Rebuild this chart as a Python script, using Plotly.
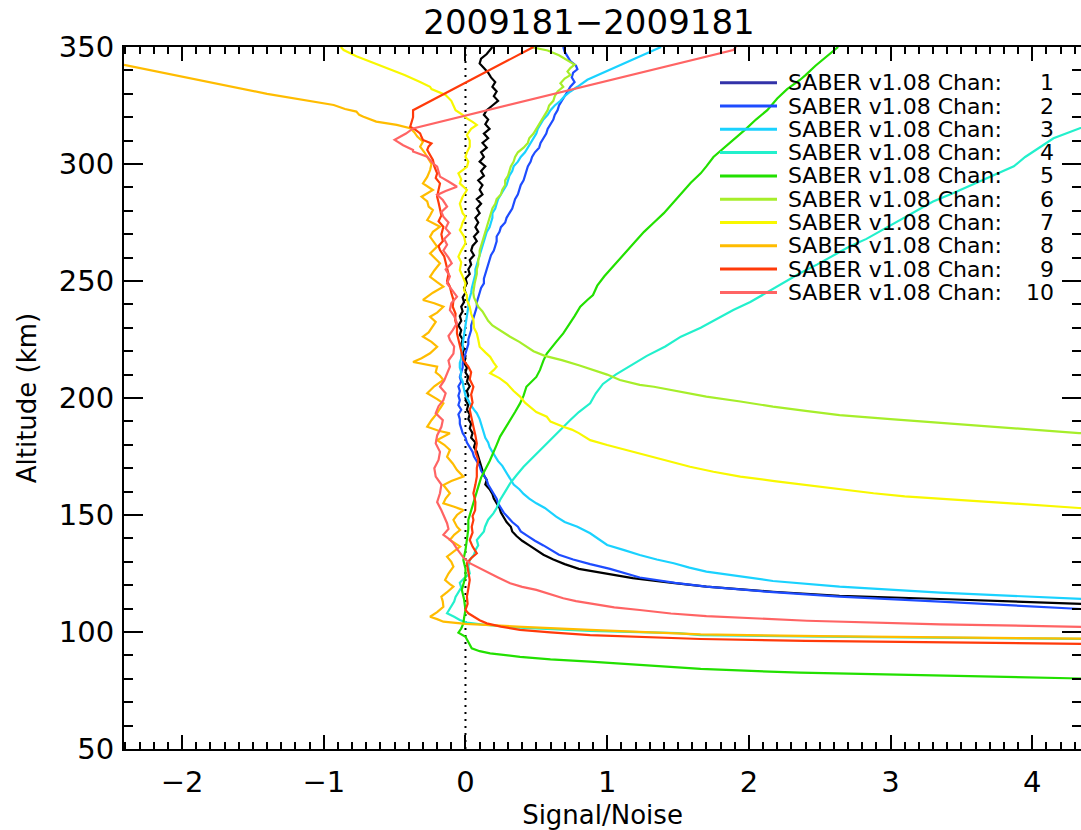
import plotly.graph_objects as go

# ---------------- data (altitude km, signal/noise) ----------------
alt_ch1 = [350, 347, 345, 343, 341, 339, 337, 335, 333, 331, 329, 327, 325, 323, 321, 319, 317, 315, 313, 311,
           309, 307, 305, 303, 301, 299, 297, 295, 293, 291, 289, 287, 285, 283, 281, 279, 277, 275, 273, 271,
           269, 267, 265, 263, 261, 259, 257, 255, 253, 251, 249, 247, 245, 243, 241, 239, 237, 235, 233, 231,
           229, 227, 225, 223, 221, 219, 217, 215, 213, 211, 209, 207, 205, 203, 201, 199, 197, 195, 193, 191,
           189, 187, 185, 183, 181, 179, 177, 175, 173, 171, 169, 167, 165, 163, 161, 159, 157, 155, 153, 151,
           149, 147, 145, 143, 141, 139, 137, 135, 133, 131, 129, 127, 125, 123, 121, 119.4, 117.2, 115.5, 114.1,
           112.2, 111.5]
sn_ch1 = [0.19, 0.15, 0.11, 0.10, 0.13, 0.16, 0.18, 0.21, 0.19, 0.22, 0.20, 0.23, 0.19, 0.15, 0.13, 0.16, 0.14, 0.17,
          0.13, 0.16, 0.12, 0.15, 0.11, 0.13, 0.10, 0.14, 0.11, 0.13, 0.09, 0.12, 0.10, 0.12, 0.08, 0.11, 0.08, 0.10,
          0.07, 0.09, 0.07, 0.09, 0.06, 0.08, 0.05, 0.04, 0.06, 0.03, 0.04, 0.02, 0.03, 0.00, 0.01, -0.01, 0.00, -0.02,
          -0.01, -0.03, -0.02, -0.04, -0.03, -0.05, -0.03, -0.04, -0.02, -0.03, -0.01, -0.02, 0.00, -0.01, 0.01, 0.00,
          0.02, 0.01, 0.03, 0.01, 0.02, 0.00, 0.02, 0.01, 0.03, 0.02, 0.04, 0.03, 0.05, 0.04, 0.07, 0.06, 0.08, 0.09,
          0.10, 0.11, 0.12, 0.13, 0.15, 0.14, 0.17, 0.19, 0.20, 0.22, 0.24, 0.25, 0.27, 0.29, 0.32, 0.33, 0.36, 0.40,
          0.45, 0.50, 0.55, 0.62, 0.70, 0.80, 0.98, 1.18, 1.46, 1.70, 2.17, 2.64, 3.35, 4.33, 4.60]

alt_ch2 = [350, 348, 346, 344, 342, 340.5, 339, 337, 335, 333, 331, 329, 327, 325, 323, 321, 319, 317, 315, 313,
           311, 309, 307, 305, 303, 301, 299, 297, 295, 293, 291, 289, 287, 285, 283, 281, 279, 277, 275, 273,
           271, 269, 267, 265, 263, 261, 259, 257, 255, 253, 251, 249, 247, 245, 243, 241, 239, 237, 235, 233,
           231, 229, 227, 225, 223, 221, 219, 217, 215, 213, 211, 209, 207, 205, 203, 201, 199, 197, 195, 193,
           191, 189, 187, 185, 183, 181, 179, 177, 175, 173, 171, 169, 167, 165, 163, 161, 159, 157, 155, 153,
           151, 149, 147, 145, 143, 141, 139, 137, 135, 133, 131, 129, 127, 125, 123.3, 121, 119.4, 117, 115.1,
           113, 109.8, 109]
sn_ch2 = [0.69, 0.70, 0.72, 0.74, 0.78, 0.79, 0.76, 0.75, 0.77, 0.74, 0.72, 0.70, 0.68, 0.66, 0.65, 0.63, 0.62, 0.60,
          0.58, 0.57, 0.55, 0.53, 0.52, 0.49, 0.47, 0.46, 0.44, 0.43, 0.42, 0.41, 0.39, 0.38, 0.37, 0.35, 0.34, 0.33,
          0.31, 0.29, 0.28, 0.25, 0.24, 0.22, 0.22, 0.21, 0.20, 0.18, 0.17, 0.16, 0.15, 0.14, 0.13, 0.13, 0.11, 0.10,
          0.09, 0.08, 0.08, 0.07, 0.06, 0.05, 0.04, 0.04, 0.03, 0.02, 0.02, 0.01, 0.00, -0.01, -0.02, -0.02, -0.03,
          -0.04, -0.03, -0.05, -0.04, -0.05, -0.04, -0.05, -0.03, -0.05, -0.04, -0.04, -0.03, -0.02, 0.00, 0.01, 0.03,
          0.05, 0.06, 0.08, 0.10, 0.11, 0.13, 0.15, 0.16, 0.18, 0.20, 0.22, 0.23, 0.25, 0.27, 0.30, 0.33, 0.37, 0.39,
          0.44, 0.49, 0.55, 0.61, 0.66, 0.76, 0.88, 1.02, 1.14, 1.23, 1.48, 1.70, 2.17, 2.64, 3.35, 4.33, 4.60]

alt_ch3 = [350, 336, 333, 331, 329, 327, 325, 323, 321, 319, 317, 315, 313, 311, 309, 307, 305, 303, 301, 299,
           297, 295, 293, 291, 289, 287, 285, 283, 281, 279, 277, 275, 273, 271, 269, 267, 265, 263, 261, 259,
           257, 255, 253, 251, 249, 247, 245, 243, 241, 239, 237, 235, 233, 231, 229, 227, 225, 223, 221, 219,
           217, 215, 213, 211, 209, 207, 205, 203, 201, 199, 197.7, 195, 193.5, 191, 189, 187, 185, 183, 181, 179,
           177, 175, 173, 171, 169, 167, 165, 163, 161, 159, 157, 155, 153, 151, 149.3, 147, 145, 142.2, 139,
           137.2, 135, 132.9, 131, 129.4, 127.5, 125.8, 121.8, 119.4, 116.8, 114.1, 113.5]
sn_ch3 = [1.38, 0.86, 0.79, 0.74, 0.70, 0.67, 0.63, 0.60, 0.58, 0.55, 0.53, 0.51, 0.50, 0.48, 0.46, 0.44, 0.42, 0.39,
          0.37, 0.34, 0.33, 0.31, 0.30, 0.29, 0.27, 0.25, 0.23, 0.22, 0.21, 0.19, 0.19, 0.18, 0.17, 0.15, 0.14, 0.13,
          0.12, 0.115, 0.10, 0.09, 0.08, 0.07, 0.07, 0.06, 0.05, 0.045, 0.04, 0.03, 0.02, 0.02, 0.015, 0.01, 0.00,
          0.00, -0.01, -0.01, -0.015, -0.02, -0.02, -0.03, -0.03, -0.04, -0.04, -0.03, -0.035, -0.02, -0.015, -0.01,
          0.00, 0.02, 0.03, 0.06, 0.08, 0.10, 0.11, 0.12, 0.13, 0.14, 0.16, 0.17, 0.19, 0.21, 0.23, 0.26, 0.28, 0.30,
          0.32, 0.34, 0.38, 0.41, 0.45, 0.50, 0.56, 0.60, 0.64, 0.70, 0.79, 0.88, 0.96, 1.00, 1.12, 1.23, 1.35, 1.47,
          1.58, 1.70, 2.17, 2.64, 3.35, 4.33, 4.60]

alt_ch4 = [317, 315.4, 311, 307, 303, 299, 295, 291, 287.5, 284, 280, 276, 272, 268, 264.7, 261, 257, 253.3, 249,
           245, 241, 237.6, 234, 230, 226.2, 222, 218, 214, 210, 206, 202, 197.7, 194, 190.6, 187, 183.5, 180,
           176.4, 173, 170.6, 167, 163.5, 160, 156.4, 153, 150.7, 148, 145, 143, 141, 139.3, 137, 135, 133, 130.8,
           128, 125, 123, 121, 119, 117, 115, 113, 111, 109, 108, 106.5, 105.1, 104, 103, 102, 101.5, 100.5, 99.5,
           98.7, 98, 97.4, 97.0, 96.9]
sn_ch4 = [4.55, 4.34, 4.15, 4.05, 3.95, 3.87, 3.72, 3.58, 3.44, 3.30, 3.18, 3.07, 2.95, 2.83, 2.71, 2.60, 2.48, 2.36,
          2.24, 2.13, 2.01, 1.89, 1.78, 1.66, 1.52, 1.41, 1.28, 1.17, 1.06, 0.97, 0.92, 0.88, 0.80, 0.74, 0.68, 0.62,
          0.56, 0.50, 0.45, 0.41, 0.36, 0.315, 0.28, 0.244, 0.22, 0.197, 0.16, 0.138, 0.13, 0.10, 0.08, 0.09, 0.07,
          0.06, 0.03, 0.02, 0.03, -0.01, -0.04, -0.03, -0.05, -0.07, -0.08, -0.10, -0.12, -0.13, -0.08, -0.04, 0.01,
          0.15, 0.34, 0.50, 0.88, 1.50, 1.66, 2.50, 3.35, 4.33, 4.60]

alt_ch5 = [350, 346, 342, 338, 335.9, 332, 328, 323, 319, 315, 310.3, 306, 303, 299, 296, 292, 288, 284, 279, 275,
           271, 267, 263, 259, 256, 252, 248, 244, 241.9, 239, 235, 231, 227.6, 224, 221, 219, 216, 212, 209, 204.8,
           201, 197.7, 194, 190.6, 187, 183.5, 180, 176.4, 173, 169.2, 166, 162, 158, 155, 151, 147.9, 144, 139.3,
           135, 130.8, 127, 123.6, 121, 118, 114, 109.4, 106, 103.7, 101.5, 99.7, 98, 95.5, 93, 91.8, 90.9, 89.4,
           88.3, 87.3, 85.8, 84.2, 82.6, 81.2, 80.0, 79.8]
sn_ch5 = [2.63, 2.55, 2.47, 2.40, 2.36, 2.27, 2.20, 2.13, 2.05, 1.98, 1.89, 1.80, 1.75, 1.70, 1.66, 1.59, 1.53, 1.47,
          1.40, 1.33, 1.26, 1.20, 1.14, 1.08, 1.04, 0.98, 0.93, 0.90, 0.86, 0.81, 0.77, 0.73, 0.69, 0.64, 0.60, 0.574,
          0.55, 0.526, 0.50, 0.43, 0.41, 0.385, 0.35, 0.315, 0.28, 0.244, 0.22, 0.197, 0.17, 0.138, 0.11, 0.09, 0.07,
          0.056, 0.04, 0.02, 0.02, 0.01, 0.00, -0.015, 0.00, 0.00, -0.01, -0.026, -0.01, 0.00, -0.01, -0.015, -0.03,
          -0.05, 0.00, 0.02, 0.044, 0.10, 0.174, 0.385, 0.60, 0.88, 1.25, 1.66, 2.36, 3.35, 4.33, 4.60]

alt_ch6 = [350, 348.5, 346.5, 344.5, 342.5, 341, 339.5, 338, 336.5, 334.5, 333, 331, 329, 327, 325, 323, 321, 319,
           317, 315, 313, 311, 309, 307, 305, 303, 301, 299, 297, 295, 293, 291, 289, 287, 285, 283, 281, 279, 277,
           275, 273, 271, 269, 267, 265, 263, 261, 259, 257, 255, 253, 251, 249, 247, 245, 243, 241, 239, 237, 235,
           233, 231, 229, 227, 226.2, 224, 222, 220, 218, 216.2, 214, 212, 210, 207.7, 205.6, 204.8, 202.7, 200.6,
           198.5, 196.3, 194.5, 192.7, 191, 189.4, 187.2, 185, 184.5]
sn_ch6 = [0.46, 0.58, 0.66, 0.72, 0.77, 0.74, 0.72, 0.74, 0.70, 0.67, 0.69, 0.65, 0.63, 0.62, 0.59, 0.58, 0.56, 0.54,
          0.52, 0.50, 0.48, 0.45, 0.44, 0.41, 0.37, 0.35, 0.34, 0.32, 0.31, 0.30, 0.28, 0.28, 0.26, 0.25, 0.22, 0.21,
          0.19, 0.18, 0.17, 0.16, 0.15, 0.14, 0.13, 0.12, 0.11, 0.10, 0.10, 0.09, 0.09, 0.08, 0.08, 0.07, 0.065, 0.06,
          0.055, 0.06, 0.075, 0.09, 0.12, 0.14, 0.16, 0.19, 0.24, 0.29, 0.315, 0.38, 0.43, 0.48, 0.56, 0.68, 0.80,
          0.90, 1.00, 1.09, 1.23, 1.33, 1.51, 1.70, 1.94, 2.17, 2.40, 2.64, 3.00, 3.35, 3.85, 4.33, 4.60]

alt_ch7 = [350, 348.7, 346, 343.7, 341, 338, 335, 333, 332, 331, 329.5, 328.8, 327, 325, 323, 321, 319.5, 318,
           316.7, 315, 313.5, 312.4, 310, 307.4, 305, 303.1, 301, 298.8, 296, 293.5, 291.7, 288.9, 286, 283, 281,
           279, 277.5, 275, 273, 271.8, 269, 266.1, 263, 260.4, 258, 254.7, 252, 249, 246, 244, 241.9, 239, 236,
           233.3, 230, 227.6, 225, 221.9, 219.5, 217.6, 215, 213.4, 212, 210.6, 208.5, 206.3, 203, 200.6, 198,
           196.3, 194, 192, 189.9, 187.7, 186.5, 185, 182, 179.9, 178, 176.4, 173.5, 170.6, 168.5, 166.4, 164.5,
           162.8, 161, 159.3, 158, 157.1, 155, 153, 152.5]
sn_ch7 = [-0.88, -0.86, -0.77, -0.67, -0.55, -0.43, -0.32, -0.25, -0.24, -0.20, -0.14, -0.13, -0.10, -0.085, -0.07,
          -0.02, 0.01, 0.05, 0.08, 0.04, 0.02, 0.01, 0.03, 0.03, 0.01, 0.00, 0.02, 0.01, -0.05, -0.03, -0.04, 0.01,
          -0.02, -0.04, -0.03, -0.02, 0.00, -0.02, -0.03, -0.04, -0.01, 0.00, -0.03, -0.05, -0.03, -0.04, -0.02, 0.00,
          -0.01, 0.01, 0.01, 0.03, 0.04, 0.056, 0.06, 0.08, 0.09, 0.10, 0.14, 0.174, 0.20, 0.22, 0.20, 0.174, 0.24,
          0.29, 0.34, 0.385, 0.42, 0.456, 0.50, 0.574, 0.60, 0.69, 0.75, 0.80, 0.88, 1.00, 1.12, 1.23, 1.40, 1.585,
          1.75, 1.94, 2.18, 2.41, 2.65, 2.88, 3.10, 3.35, 3.85, 4.33, 4.60]

alt_ch8 = [342.4, 336, 330, 325.2, 323.5, 322.4, 321, 320.2, 319, 318.1, 316.7, 315.3, 313.5, 311.7, 309.5, 307.4,
           305, 303.1, 300, 297.4, 294.5, 291.7, 288.9, 286, 284, 281.8, 280.3, 278, 276, 273.2, 271, 268.9, 266.5,
           264.7, 261.8, 259.5, 257.6, 254.5, 251.8, 249.5, 247.6, 245, 241.9, 240.5, 239, 236.5, 234.7, 232.5,
           230.5, 228, 226.2, 224, 221.9, 219.1, 217, 215.4, 213.4, 211, 209.5, 207.7, 205, 202, 199.5, 197.7,
           195.5, 193.5, 190.5, 187.7, 186, 184.9, 182, 180, 177.8, 174.9, 172, 169.2, 166.4, 164.5, 162.8, 161,
           159.3, 157, 155, 153.5, 152.1, 150, 147.9, 145, 143.6, 141.5, 139.3, 136.5, 134, 132.2, 130, 127.9, 125,
           122.2, 120.5, 119.4, 117, 115.1, 113, 110.8, 108.5, 106.5, 105.5, 104.4, 103.5, 103, 102.2, 100.9, 99.9,
           99.0, 98.2, 97.6, 97.1, 97.0]
sn_ch8 = [-2.41, -1.90, -1.40, -0.93, -0.85, -0.77, -0.75, -0.72, -0.67, -0.63, -0.485, -0.39, -0.36, -0.34, -0.30,
          -0.32, -0.29, -0.27, -0.24, -0.25, -0.27, -0.30, -0.23, -0.31, -0.27, -0.26, -0.23, -0.25, -0.27, -0.18,
          -0.23, -0.25, -0.22, -0.20, -0.25, -0.21, -0.18, -0.22, -0.25, -0.20, -0.156, -0.23, -0.30, -0.22, -0.156,
          -0.20, -0.25, -0.21, -0.23, -0.26, -0.30, -0.24, -0.20, -0.25, -0.31, -0.37, -0.20, -0.21, -0.18, -0.156,
          -0.22, -0.27, -0.20, -0.156, -0.18, -0.20, -0.24, -0.27, -0.19, -0.11, -0.20, -0.15, -0.11, -0.13, -0.09,
          -0.06, -0.015, -0.10, -0.156, -0.13, -0.11, -0.14, -0.156, -0.08, -0.015, -0.06, -0.085, -0.06, -0.038,
          -0.08, -0.11, -0.038, -0.09, -0.13, -0.10, -0.085, -0.12, -0.144, -0.11, -0.085, -0.13, -0.17, -0.16,
          -0.156, -0.20, -0.25, -0.20, -0.156, 0.00, 0.15, 0.40, 0.88, 1.30, 1.66, 2.50, 3.35, 4.33, 4.60]

alt_ch9 = [350, 323, 320, 318, 315.9, 314.5, 313.1, 311.5, 310.3, 308.8, 307.5, 306, 304, 301.7, 299, 296, 294,
           291.7, 289, 286, 283.5, 281, 278, 275.5, 273.2, 270, 267, 265, 263.2, 260.5, 258, 256, 253, 250, 247.6,
           245, 241.9, 239, 236, 233.3, 230.5, 227.6, 225, 221.9, 219, 216.2, 213.4, 211, 208, 204.8, 201.5, 198,
           195, 191.5, 187.7, 184, 180.6, 177, 173.5, 170, 166.4, 163, 159.3, 155.5, 152, 149.5, 147.9, 145, 142.5,
           139.3, 136.5, 133.6, 131.5, 129.4, 126, 122.2, 118.5, 115.1, 112, 109.4, 108, 106.5, 105, 103.7, 102.3,
           100.9, 99.8, 98.7, 97.8, 97.0, 96.2, 95.5, 94.9, 94.8]
sn_ch9 = [0.48, -0.37, -0.37, -0.38, -0.39, -0.35, -0.32, -0.31, -0.30, -0.24, -0.26, -0.27, -0.25, -0.23, -0.22,
          -0.20, -0.21, -0.18, -0.19, -0.20, -0.19, -0.18, -0.17, -0.19, -0.156, -0.17, -0.16, -0.19, -0.18, -0.15,
          -0.14, -0.13, -0.12, -0.13, -0.11, -0.10, -0.085, -0.09, -0.07, -0.073, -0.06, -0.06, -0.05, -0.038, -0.03,
          -0.015, 0.02, 0.04, 0.03, 0.056, 0.04, 0.05, 0.03, 0.04, 0.056, 0.07, 0.08, 0.07, 0.09, 0.08, 0.08, 0.07,
          0.056, 0.07, 0.068, 0.05, 0.056, 0.044, 0.05, 0.03, 0.05, 0.08, 0.04, 0.01, 0.02, 0.03, 0.02, 0.01, 0.015,
          0.00, 0.02, 0.056, 0.10, 0.15, 0.25, 0.385, 0.60, 0.88, 1.25, 1.66, 2.40, 3.35, 4.33, 4.60]

alt_ch10 = [350, 348.7, 315.2, 313, 310.3, 308, 306, 305.3, 303.1, 300.3, 298.9, 296.5, 294.6, 292.5, 290.3, 288.5,
            286.8, 284.6, 281.8, 279.5, 277.5, 275, 272.5, 270.4, 268, 265.5, 263, 260, 257.6, 255, 252, 249, 246,
            243.3, 240.5, 237.6, 235, 232, 229, 226.5, 224.8, 222, 219, 216, 213.4, 210.6, 207.5, 204.8, 202, 199.1,
            196.5, 193.5, 190.5, 187.7, 184, 180.6, 177, 173.5, 170, 166.4, 163, 159.3, 155.5, 152, 149, 146.5, 144,
            141.5, 139.5, 137.9, 135.5, 133.6, 131.5, 129.4, 127.5, 125.8, 123.3, 120.8, 119.3, 118, 116.2, 114.4,
            113.2, 112.3, 110.5, 109.4, 107.9, 106.8, 104.8, 103.3, 102.1, 101.9]
sn_ch10 = [1.91, 1.89, -0.37, -0.42, -0.50, -0.44, -0.37, -0.37, -0.27, -0.23, -0.20, -0.19, -0.18, -0.12, -0.06,
           -0.14, -0.20, -0.16, -0.13, -0.17, -0.156, -0.12, -0.14, -0.11, -0.15, -0.13, -0.156, -0.12, -0.097, -0.14,
           -0.11, -0.13, -0.09, -0.06, -0.10, -0.11, -0.08, -0.06, -0.09, -0.12, -0.11, -0.08, -0.085, -0.12, -0.11,
           -0.13, -0.15, -0.18, -0.14, -0.156, -0.19, -0.21, -0.16, -0.17, -0.20, -0.21, -0.18, -0.19, -0.22, -0.21,
           -0.17, -0.18, -0.20, -0.17, -0.15, -0.13, -0.12, -0.156, -0.11, -0.085, -0.06, -0.038, -0.01, 0.03, 0.09,
           0.15, 0.23, 0.315, 0.40, 0.50, 0.60, 0.69, 0.78, 0.88, 1.05, 1.23, 1.45, 1.70, 2.41, 3.35, 4.33, 4.60]

channels = [1, 2, 3, 4, 5, 6, 7, 8, 9, 10]
line_colors = ["#000000", "#1e4cff", "#1ad2ff", "#22f0cc", "#22e000",
               "#a6ee2a", "#f8f800", "#ffbc00", "#ff3a0a", "#ff6464"]
legend_colors = ["#3232a8", "#1e4cff", "#1ad2ff", "#22f0cc", "#22e000",
                 "#a6ee2a", "#f8f800", "#ffbc00", "#ff3a0a", "#ff6464"]
legend_label = "SABER v1.08 Chan:"
title_text = "2009181\u22122009181"

alts = [alt_ch1, alt_ch2, alt_ch3, alt_ch4, alt_ch5, alt_ch6, alt_ch7, alt_ch8, alt_ch9, alt_ch10]
sns = [sn_ch1, sn_ch2, sn_ch3, sn_ch4, sn_ch5, sn_ch6, sn_ch7, sn_ch8, sn_ch9, sn_ch10]

# ---------------- figure ----------------
W, H = 1081, 830
ML, MR, MT, MB = 124, 0, 47, 81
PW, PH = W - ML - MR, H - MT - MB
FONT = "DejaVu Sans"

fig = go.Figure()

# zero reference line
fig.add_trace(go.Scatter(x=[0, 0], y=[50, 350], mode="lines",
                         line=dict(color="black", width=2, dash="2px,5px"),
                         showlegend=False, hoverinfo="skip"))

for ch, a, s, c in zip(channels, alts, sns, line_colors):
    fig.add_trace(go.Scatter(x=s, y=a, mode="lines", line=dict(color=c, width=2.2),
                             name=f"{legend_label} {ch}", showlegend=False))

# manual legend (IDL style)
shapes = []
annotations = []
def px_to_paper_x(px):
    return (px - ML) / PW
def py_to_paper_y(py):
    return (H - MB - py) / PH

leg_y0, leg_dy = 82.7, 23.3
for i, (ch, c) in enumerate(zip(channels, legend_colors)):
    yy = py_to_paper_y(leg_y0 + i * leg_dy)
    shapes.append(dict(type="line", xref="paper", yref="paper",
                       x0=px_to_paper_x(720), x1=px_to_paper_x(777), y0=yy, y1=yy,
                       line=dict(color=c, width=3)))
    annotations.append(dict(xref="paper", yref="paper", x=px_to_paper_x(786), y=yy,
                            text=legend_label, showarrow=False, xanchor="left", yanchor="middle",
                            font=dict(family=FONT, size=22, color="black")))
    annotations.append(dict(xref="paper", yref="paper", x=px_to_paper_x(1056), y=yy,
                            text=str(ch), showarrow=False, xanchor="right", yanchor="middle",
                            font=dict(family=FONT, size=22, color="black")))

axis_common = dict(showline=True, linecolor="black", linewidth=2, mirror="allticks",
                   ticks="inside", tickcolor="black", tickwidth=2, showgrid=False,
                   zeroline=False, tickfont=dict(family=FONT, size=29, color="black"))

fig.update_layout(
    width=W, height=H,
    margin=dict(l=ML, r=MR, t=MT, b=MB, autoexpand=False),
    plot_bgcolor="white", paper_bgcolor="white",
    font=dict(family=FONT, color="black"),
    title=dict(text=title_text, x=589 / W, y=1 - 22 / H, xanchor="center", yanchor="middle",
               font=dict(family=FONT, size=34, color="black")),
    xaxis=dict(range=[-2.41, 4.344], tick0=0, dtick=1, ticklen=14, ticklabelstandoff=6,
               minor=dict(dtick=0.1, ticklen=7, tickwidth=1.5, ticks="inside", tickcolor="black"),
               title=dict(text="Signal/Noise", font=dict(family=FONT, size=26), standoff=8),
               **axis_common),
    yaxis=dict(range=[50, 350], tick0=50, dtick=50, ticklen=19, ticklabelstandoff=2,
               minor=dict(dtick=10, ticklen=9, tickwidth=1.5, ticks="inside", tickcolor="black"),
               title=dict(text="Altitude (km)", font=dict(family=FONT, size=26), standoff=15),
               **axis_common),
    shapes=shapes, annotations=annotations,
    showlegend=False, hovermode=False,
)

fig.write_html("out.html", config={"displayModeBar": False})
